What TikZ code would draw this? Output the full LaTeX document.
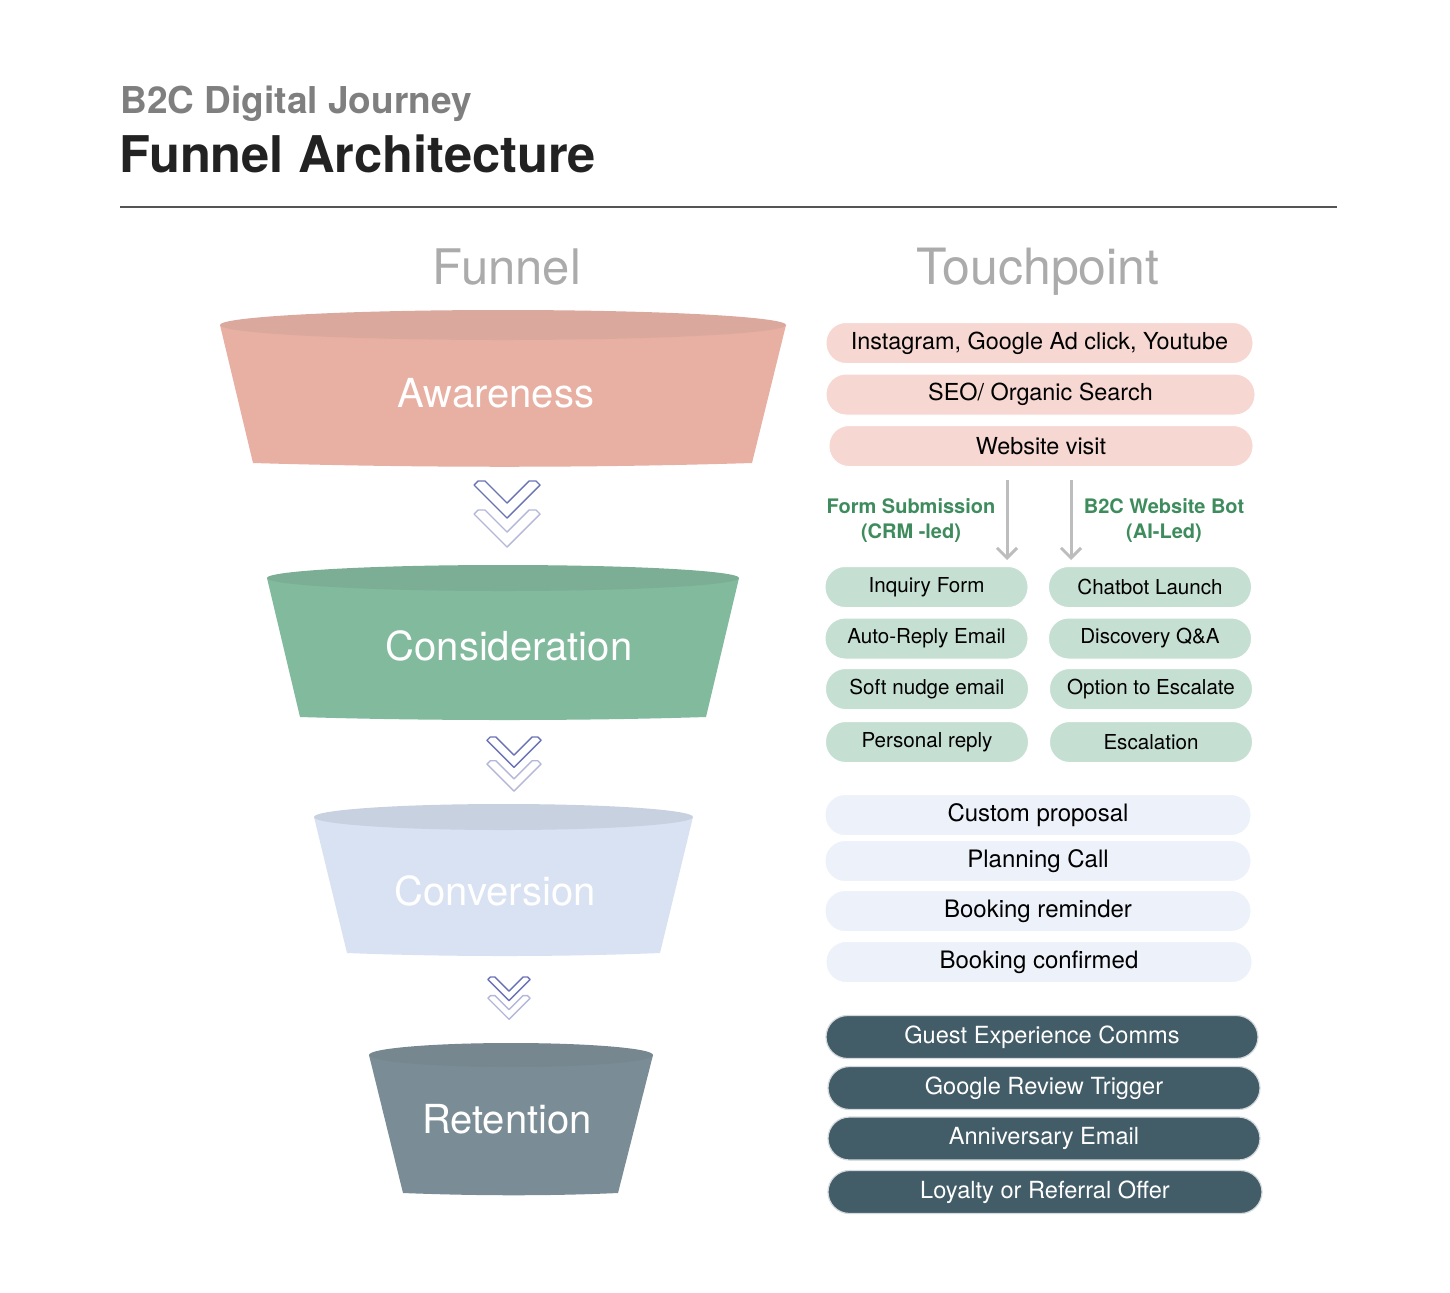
\documentclass[tikz,border=0pt]{standalone}
\usepackage{fontspec}
\setmainfont{TeX Gyre Heros}
\usetikzlibrary{arrows.meta}
\definecolor{subgray}{HTML}{7F7F7F}
\definecolor{titleblack}{HTML}{222222}
\definecolor{rulegray}{HTML}{555555}
\definecolor{headgray}{HTML}{ABABAB}
\definecolor{awbody}{HTML}{E8B0A3}
\definecolor{awtop}{HTML}{DBA89E}
\definecolor{cobody}{HTML}{82BA9E}
\definecolor{cotop}{HTML}{7BAE94}
\definecolor{cvbody}{HTML}{D9E2F2}
\definecolor{cvtop}{HTML}{C8D1E0}
\definecolor{rebody}{HTML}{7A8C95}
\definecolor{retop}{HTML}{76878F}
\definecolor{pinkpill}{HTML}{F6D7D2}
\definecolor{greenpill}{HTML}{C5DFD3}
\definecolor{bluepill}{HTML}{EDF1FA}
\definecolor{darkpill}{HTML}{425C68}
\definecolor{darkborder}{HTML}{D3D9DC}
\definecolor{labgreen}{HTML}{3E8C5D}
\definecolor{arrowgray}{HTML}{BDBDBD}
\definecolor{chevA}{HTML}{6A72B6}
\definecolor{chevB}{HTML}{B3B7DA}
\newcommand\mychev[3]{%
  \begin{scope}[shift={(#1,#2)},scale=#3]
    \draw[chevA,line width=0.7pt,line join=round] (-33,4) -- (-29,0) -- (-22,0) -- (0,22) -- (22,0) -- (29,0) -- (33,4) -- (0,37) -- cycle;
    \draw[chevB,line width=0.7pt,line join=round] (-33,33) -- (-29,29) -- (-22,29) -- (0,51) -- (22,29) -- (29,29) -- (33,33) -- (0,66) -- cycle;
  \end{scope}}
\tikzset{
  pillbase/.style={rectangle,rounded corners=10pt,minimum height=20.5pt,inner sep=0pt,text=black},
  pinkp/.style={pillbase,fill=pinkpill,draw=white,line width=0.5pt,font=\fontsize{11.7}{14}\selectfont},
  greenp/.style={pillbase,fill=greenpill,draw=white,line width=0.5pt,minimum width=101.5pt,font=\fontsize{10.3}{12}\selectfont},
  bluep/.style={pillbase,fill=bluepill,draw=white,line width=0.5pt,minimum width=213pt,font=\fontsize{12}{14}\selectfont},
  darkp/.style={pillbase,fill=darkpill,draw=darkborder,line width=0.6pt,minimum height=21.5pt,rounded corners=10.75pt,text=white,font=\fontsize{11.8}{14}\selectfont},
  funtext/.style={anchor=base,text=white,inner sep=0pt,font=\fontsize{20}{24}\selectfont},
  grlab/.style={align=center,text=labgreen,inner sep=0pt,font=\bfseries\fontsize{10}{12.5}\selectfont},
  grarrow/.style={draw=arrowgray,line width=1.5pt,-{Straight Barb[length=5pt,width=10pt]}}
}
\begin{document}
\begin{tikzpicture}[x=0.5pt,y=-0.5pt]
\fill[white] (0,0) rectangle (1450,1292);
\useasboundingbox (0,0) rectangle (1450,1292);
% titles
\node[anchor=base west,inner sep=0pt,text=subgray,font=\bfseries\fontsize{18.5}{20}\selectfont] (sub) at (120,113) {B2C Digital Journey};
\node[anchor=base west,inner sep=0pt,text=titleblack,font=\bfseries\fontsize{25.3}{30}\selectfont] (title) at (119,172) {Funnel Architecture};
\draw[rulegray,line width=0.7pt] (120,207) -- (1337,207);
\node[anchor=base,inner sep=0pt,text=headgray,font=\fontsize{24.5}{28}\selectfont] (hfun) at (507,284) {Funnel};
\node[anchor=base,inner sep=0pt,text=headgray,font=\fontsize{25}{28}\selectfont] (htp) at (1038,284) {Touchpoint};
% funnels
\fill[awbody] (220,325) -- (253,463) .. controls (420,468) and (590,468) .. (752,463) -- (786,325) -- cycle;
\fill[awtop] (503,325) ellipse [x radius=283, y radius=15];
\node[funtext] (aw) at (496,407) {Awareness};
\fill[cobody] (267,578) -- (300,717) .. controls (430,721) and (580,721) .. (706,717) -- (739,578) -- cycle;
\fill[cotop] (503,578) ellipse [x radius=236, y radius=13];
\node[funtext] (co) at (509,660) {Consideration};
\fill[cvbody] (314,817) -- (347,953) .. controls (450,957) and (560,957) .. (660,953) -- (693,817) -- cycle;
\fill[cvtop] (503.5,817) ellipse [x radius=189.5, y radius=13];
\node[funtext] (cv) at (495,905) {Conversion};
\fill[rebody] (369,1055) -- (403,1193) .. controls (480,1196) and (550,1196) .. (618,1193) -- (653,1055) -- cycle;
\fill[retop] (511,1055) ellipse [x radius=142, y radius=12];
\node[funtext] (re) at (507,1133) {Retention};
% chevrons
\mychev{507}{481}{1}
\mychev{514}{737}{0.82}
\mychev{509}{977}{0.64}
% pink pills
\node[pinkp,minimum width=213.5pt] (p1) at (1039.5,343) {Instagram, Google Ad click, Youtube};
\node[pinkp,minimum width=214.5pt] (p2) at (1040.5,394.5) {SEO/ Organic Search};
\node[pinkp,minimum width=212pt] (p3) at (1041,446) {Website visit};
% branch labels and arrows
\node[grlab] (lab1) at (911,521) {Form Submission\\(CRM -led)};
\node[grlab] (lab2) at (1164,521) {B2C Website Bot\\(AI-Led)};
\coordinate (a1s) at (1007,480);
\coordinate (a1e) at (1007,560);
\coordinate (a2s) at (1071,480);
\coordinate (a2e) at (1071,560);
\draw[grarrow] (a1s) -- (a1e);
\draw[grarrow] (a2s) -- (a2e);
% green pills
\node[greenp] (g1) at (926.5,587) {Inquiry Form};
\node[greenp] (g2) at (926.5,638.5) {Auto-Reply Email};
\node[greenp] (g3) at (927,689) {Soft nudge email};
\node[greenp] (g4) at (927,742) {Personal reply};
\node[greenp] (h1) at (1150,587) {Chatbot Launch};
\node[greenp] (h2) at (1150,638.5) {Discovery Q\&A};
\node[greenp] (h3) at (1151,689) {Option to Escalate};
\node[greenp] (h4) at (1151,742) {Escalation};
% blue pills
\node[bluep] (b1) at (1038,815) {Custom proposal};
\node[bluep] (b2) at (1038,861) {Planning Call};
\node[bluep] (b3) at (1038,911) {Booking reminder};
\node[bluep] (b4) at (1039,962) {Booking confirmed};
% dark pills
\node[darkp,minimum width=216pt] (d1) at (1042,1037) {Guest Experience Comms};
\node[darkp,minimum width=216pt] (d2) at (1044,1088) {Google Review Trigger};
\node[darkp,minimum width=216pt] (d3) at (1044,1138.5) {Anniversary Email};
\node[darkp,minimum width=217pt] (d4) at (1045,1192) {Loyalty or Referral Offer};
\end{tikzpicture}
\end{document}
